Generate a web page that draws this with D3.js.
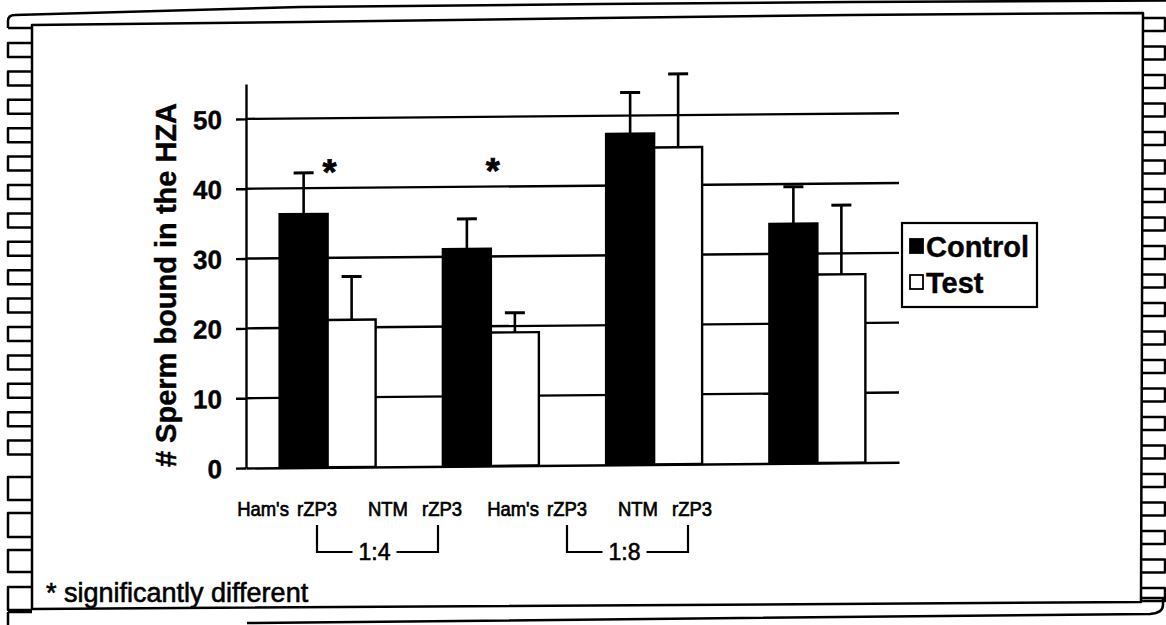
<!DOCTYPE html>
<html><head><meta charset="utf-8">
<script src="https://cdn.jsdelivr.net/npm/d3@7"></script>
<style>body{margin:0;background:#fff}svg{display:block}</style>
</head><body><svg id="c" width="1166" height="625"></svg>
<script>
// ---------- data ----------
const groups = ["Ham's 1:4", "NTM 1:4", "Ham's 1:8", "NTM 1:8"];
const series = ["Control", "Test"];
const controlValues = [36.3, 31.1, 47.4, 34.3];
const controlErrors = [5.9, 4.3, 5.9, 5.3];
const testValues = [21.1, 19.1, 45.4, 27.0];
const testErrors = [6.2, 2.8, 10.5, 9.9];
const significant = [true, true, false, false];
const yTicks = [0, 10, 20, 30, 40, 50];
const labelWords = [["Ham's", "rZP3"], ["NTM", "rZP3"], ["Ham's", "rZP3"], ["NTM", "rZP3"]];
const ratioLabels = ["1:4", "1:8"];
const yTitle = "# Sperm bound in the HZA";
const footnote = "* significantly different";

// ---------- setup ----------
const svg = d3.select("#c");
const FONT = "'Liberation Sans', Arial, Helvetica, sans-serif";
svg.append("rect").attr("width", 1166).attr("height", 625).attr("fill", "#fff");

// ---------- scanned frame (decoration) ----------
const frame = svg.append("g").attr("fill", "none").attr("stroke", "#000").attr("stroke-width", 2.5).attr("stroke-linejoin", "round");
const line = d3.line();
frame.append("path").attr("d", "M8,28 L8,21 Q8,15 15,15 L300,7 L600,4 L850,2 L1166,0.5");
frame.append("path").attr("d", line([[8, 28], [32, 28]]));
frame.append("path").attr("d", line([[32, 25], [300, 22], [600, 18], [850, 15], [1143, 13], [1141, 602], [32, 609]]) + "Z");
frame.append("path").attr("d", "M247,623 L1150,614 Q1163,613 1163,605 L1163,598 L1141,598");
frame.append("path").attr("d", line([[8, 612], [32, 612]]));
frame.append("path").attr("d", line([[8, 612], [8, 625]]));
const leftBoxes = [];
for (let t = 43; t < 455; t += 28.4) leftBoxes.push([t, 14]);
[[477, 23], [513, 24], [550, 22], [587, 23]].forEach(b => leftBoxes.push(b));
leftBoxes.forEach(([t, h]) => frame.append("path").attr("d", line([[32, t], [8, t], [8, t + h], [32, t + h]])));
const rightBoxes = [];
for (let t = 18; t < 590; t += 28.5) rightBoxes.push([t, 13]);
rightBoxes.forEach(([t, h]) => frame.append("path").attr("d", line([[1142, t], [1165, t], [1165, t + h], [1142, t + h]])));

// ---------- plot (slightly skewed like the scan) ----------
const skew = 0.5;
const plot = svg.append("g")
  .attr("transform", `translate(0,${246 * Math.tan(skew * Math.PI / 180)}) skewY(${-skew})`);

const x0 = d3.scaleBand().domain(groups).range([246, 899]).paddingInner(0.412).paddingOuter(0.206);
const x1 = d3.scaleBand().domain(series).range([0, x0.bandwidth()]);
const y = d3.scaleLinear().domain([0, 55]).range([468, 84]);

plot.append("g").selectAll("line").data(yTicks.filter(d => d > 0)).join("line")
  .attr("x1", 246).attr("x2", 899).attr("y1", d => y(d)).attr("y2", d => y(d))
  .attr("stroke", "#000").attr("stroke-width", 2.4);

const rows = groups.map((g, i) => ({
  g, i,
  bars: [
    { s: "Control", v: controlValues[i], e: controlErrors[i] },
    { s: "Test", v: testValues[i], e: testErrors[i] }
  ]
}));

const gg = plot.append("g").selectAll("g").data(rows).join("g")
  .attr("transform", d => `translate(${x0(d.g)},0)`);

gg.selectAll("rect").data(d => d.bars).join("rect")
  .attr("x", d => x1(d.s)).attr("width", x1.bandwidth())
  .attr("y", d => y(d.v)).attr("height", d => y(0) - y(d.v))
  .attr("fill", d => d.s === "Control" ? "#000" : "#fff")
  .attr("stroke", "#000").attr("stroke-width", 2.4);

const eb = gg.selectAll("g.err").data(d => d.bars).join("g").attr("class", "err")
  .attr("stroke", "#000");
eb.append("line")
  .attr("x1", d => x1(d.s) + x1.bandwidth() / 2).attr("x2", d => x1(d.s) + x1.bandwidth() / 2)
  .attr("y1", d => y(d.v)).attr("y2", d => y(d.v + d.e)).attr("stroke-width", 2.6);
eb.append("line")
  .attr("x1", d => x1(d.s) + x1.bandwidth() / 2 - 10).attr("x2", d => x1(d.s) + x1.bandwidth() / 2 + 10)
  .attr("y1", d => y(d.v + d.e)).attr("y2", d => y(d.v + d.e)).attr("stroke-width", 3);

gg.filter(d => significant[d.i]).append("text")
  .attr("x", x0.bandwidth() / 2 + 2).attr("y", y(43.4) + 20)
  .attr("text-anchor", "middle").attr("font-family", FONT).attr("font-weight", "bold")
  .attr("font-size", 36).attr("stroke", "#000").attr("stroke-width", 0.8).text("*");

const yAxis = plot.append("g").attr("transform", "translate(246,0)")
  .call(d3.axisLeft(y).tickValues(yTicks).tickSize(10).tickSizeOuter(0).tickPadding(14));
yAxis.select(".domain").attr("stroke-width", 2.4);
yAxis.selectAll(".tick line").attr("stroke-width", 2.4);
yAxis.selectAll(".tick text").attr("font-family", FONT).attr("font-weight", "bold")
  .attr("font-size", 26).attr("fill", "#000").attr("stroke", "#000").attr("stroke-width", 0.4)
  .attr("dy", "0.36em");

const xAxis = plot.append("g").attr("transform", `translate(0,${y(0)})`)
  .call(d3.axisBottom(x0).tickSize(0).tickSizeOuter(0).tickFormat(""));
xAxis.select(".domain").attr("stroke-width", 2.4);

svg.append("text")
  .attr("transform", "translate(176,285) rotate(-90)")
  .attr("text-anchor", "middle").attr("font-family", FONT).attr("font-weight", "bold")
  .attr("font-size", 29).attr("stroke", "#000").attr("stroke-width", 0.4).text(yTitle);

// ---------- category labels ----------
const lx = d3.scalePoint().domain(groups).range([290, 665]);
const wordOff = 27;
const lab = svg.append("g").attr("font-family", FONT).attr("font-size", 21).attr("fill", "#000")
  .attr("stroke", "#000").attr("stroke-width", 0.7);
groups.forEach((g, i) => {
  labelWords[i].forEach((w, j) => {
    lab.append("text")
      .attr("transform", `translate(${lx(g) + (j === 0 ? -wordOff : wordOff)},516) scale(0.88,1)`)
      .attr("text-anchor", "middle").text(w);
  });
});

const br = svg.append("g");
ratioLabels.forEach((r, k) => {
  const xa = lx(groups[2 * k]) + wordOff;
  const xb = lx(groups[2 * k + 1]) + wordOff - 4;
  const mid = (xa + xb) / 2 - 3;
  br.append("path").attr("fill", "none").attr("stroke", "#000").attr("stroke-width", 2.2)
    .attr("d", line([[xa, 525], [xa, 552], [mid - 22, 552]]));
  br.append("path").attr("fill", "none").attr("stroke", "#000").attr("stroke-width", 2.2)
    .attr("d", line([[mid + 22, 552], [xb, 552], [xb, 525]]));
  br.append("text").attr("x", mid).attr("y", 560).attr("text-anchor", "middle")
    .attr("font-family", FONT).attr("font-size", 23).attr("stroke", "#000").attr("stroke-width", 0.6).text(r);
});

svg.append("text").attr("x", 46).attr("y", 602)
  .attr("font-family", FONT).attr("font-size", 27).attr("stroke", "#000").attr("stroke-width", 0.6)
  .text(footnote);

// ---------- legend ----------
const leg = svg.append("g");
leg.append("rect").attr("x", 902).attr("y", 223).attr("width", 135).attr("height", 84)
  .attr("fill", "#fff").attr("stroke", "#000").attr("stroke-width", 2.2);
const legItems = leg.selectAll("g").data(series).join("g")
  .attr("transform", (d, i) => `translate(0,${i * 36})`);
legItems.append("rect").attr("x", 910).attr("y", 239).attr("width", 13).attr("height", 14)
  .attr("fill", d => d === "Control" ? "#000" : "#fff").attr("stroke", "#000").attr("stroke-width", 1.8);
legItems.append("text").attr("x", 926).attr("y", 257)
  .attr("font-family", FONT).attr("font-weight", "bold").attr("font-size", 29)
  .attr("stroke", "#000").attr("stroke-width", 0.4).text(d => d);
</script>
</body></html>
